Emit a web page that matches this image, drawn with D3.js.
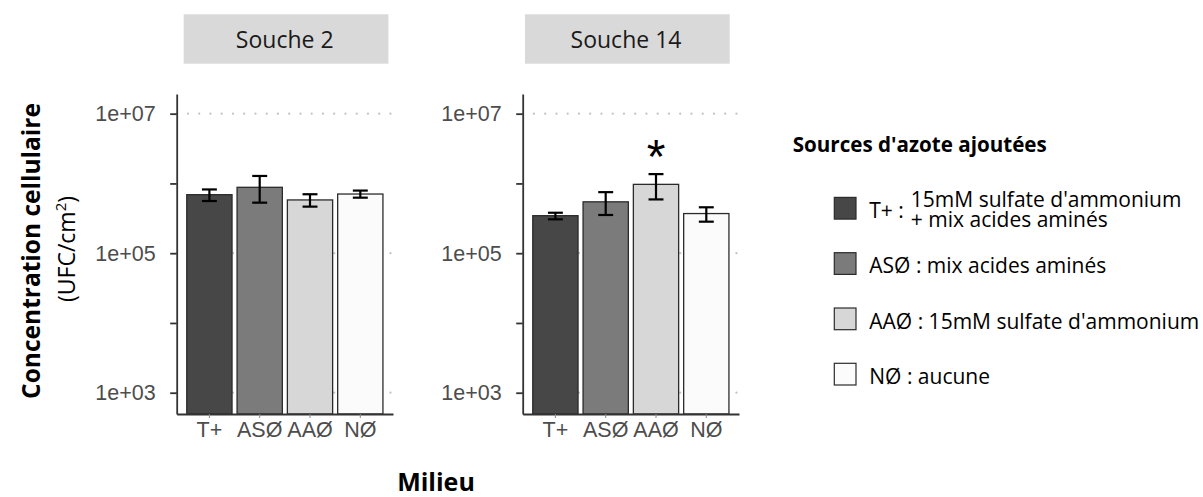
<!DOCTYPE html>
<html>
<head>
<meta charset="utf-8">
<script src="https://cdn.jsdelivr.net/npm/d3@7"></script>
<style>
  body { margin: 0; background: #fff; }
  text { font-family: "Open Sans", sans-serif; }
  .num { font-family: "Liberation Sans", Arial, sans-serif; }
</style>
</head>
<body>
<div id="chart"></div>
<script>
const categories = ["T+", "ASØ", "AAØ", "NØ"]
const strains = ["Souche 2", "Souche 14"]
const tickValues = [1e3, 1e5, 1e7]
const tickLabels = ["1e+03", "1e+05", "1e+07"]
const minorTicks = [1e4, 1e6]

// mean and error bar limits (UFC/cm2)
const means2  = [6.9e5, 8.8e5, 5.8e5, 7.05e5]
const lower2  = [5.6e5, 5.3e5, 4.65e5, 6.25e5]
const upper2  = [8.2e5, 1.28e6, 7.0e5, 7.9e5]
const means14 = [3.45e5, 5.45e5, 9.7e5, 3.7e5]
const lower14 = [3.06e5, 3.53e5, 5.9e5, 2.83e5]
const upper14 = [3.8e5, 7.5e5, 1.36e6, 4.55e5]
const signif2  = ["", "", "", ""]
const signif14 = ["", "", "*", ""]

const legendTitle = "Sources d'azote ajoutées"
const legendLabels = [
  "T+ :|15mM sulfate d'ammonium|+ mix acides aminés",
  "ASØ : mix acides aminés",
  "AAØ : 15mM sulfate d'ammonium",
  "NØ : aucune"
]
const fills = ["#474747", "#7b7b7b", "#d7d7d7", "#fbfbfb"]

const panels = [
  { strain: strains[0], means: means2, lower: lower2, upper: upper2, signif: signif2, left: 176.7, stripLeft: 183.7 },
  { strain: strains[1], means: means14, lower: lower14, upper: upper14, signif: signif14, left: 522.7, stripLeft: 525 }
]

let width = 1203, height = 497,
    panelW = 216.3, panelTop = 94, panelBottom = 414

let svg = d3.select("#chart").append("svg")
  .attr("width", width)
  .attr("height", height)

let y = d3.scaleLog()
  .domain([Math.pow(10, 2.695), Math.pow(10, 7.282)])
  .range([panelBottom, panelTop])

let x = d3.scaleBand()
  .domain(categories)
  .range([0, panelW])
  .paddingInner(0.1)
  .paddingOuter(0.2)

let color = d3.scaleOrdinal().domain(categories).range(fills)

panels.forEach(p => {
  let g = svg.append("g").attr("transform", `translate(${p.left},0)`)

  // strip
  svg.append("rect")
    .attr("x", p.stripLeft).attr("y", 14.3)
    .attr("width", 204.7).attr("height", 49.4)
    .attr("fill", "#d9d9d9")
  svg.append("text")
    .attr("x", p.stripLeft + 101).attr("y", 48.3)
    .attr("text-anchor", "middle")
    .style("font-size", "23px")
    .attr("fill", "#1a1a1a")
    .text(p.strain)

  // dotted gridlines
  g.selectAll(".grid")
    .data(tickValues)
    .enter().append("line")
    .attr("x1", 0).attr("x2", panelW)
    .attr("y1", d => y(d)).attr("y2", d => y(d))
    .attr("stroke", "#c4c4c4")
    .attr("stroke-width", 2.3)
    .attr("stroke-linecap", "round")
    .attr("stroke-dasharray", "0,11.25")

  let rows = categories.map((c, i) => ({
    cat: c, mean: p.means[i], lo: p.lower[i], hi: p.upper[i], sig: p.signif[i]
  }))

  g.selectAll(".bar")
    .data(rows)
    .enter().append("rect")
    .attr("x", d => x(d.cat))
    .attr("y", d => y(d.mean))
    .attr("width", x.bandwidth())
    .attr("height", d => panelBottom - y(d.mean))
    .attr("fill", d => color(d.cat))
    .attr("stroke", "#2b2b2b")
    .attr("stroke-width", 1.3)

  let capW = x.bandwidth() * 0.33
  let eb = g.selectAll(".err")
    .data(rows)
    .enter().append("g")
    .attr("transform", d => `translate(${x(d.cat) + x.bandwidth() / 2},0)`)
    .attr("stroke", "#000")
    .attr("stroke-width", 2.2)
  eb.append("line")
    .attr("y1", d => y(d.lo)).attr("y2", d => y(d.hi))
  eb.append("line")
    .attr("x1", -capW / 2).attr("x2", capW / 2)
    .attr("y1", d => y(d.hi)).attr("y2", d => y(d.hi))
  eb.append("line")
    .attr("x1", -capW / 2).attr("x2", capW / 2)
    .attr("y1", d => y(d.lo)).attr("y2", d => y(d.lo))

  g.selectAll(".sig")
    .data(rows.filter(d => d.sig))
    .enter().append("text")
    .attr("class", "num")
    .attr("x", d => x(d.cat) + x.bandwidth() / 2)
    .attr("y", d => y(d.hi) - 1)
    .attr("text-anchor", "middle")
    .style("font-size", "48px")
    .attr("fill", "#000")
    .text(d => d.sig)

  // y axis: labelled decades + minor decades
  g.append("g")
    .call(d3.axisLeft(y)
      .tickValues(tickValues)
      .tickFormat((d, i) => tickLabels[i])
      .tickSize(6.5)
      .tickSizeOuter(0)
      .tickPadding(14.5))
  g.append("g")
    .call(d3.axisLeft(y)
      .tickValues(minorTicks)
      .tickFormat("")
      .tickSize(6.5)
      .tickSizeOuter(0))
    .select(".domain").remove()

  let xAxis = g.append("g")
    .attr("transform", `translate(0,${panelBottom})`)
    .call(d3.axisBottom(x).tickSize(4).tickSizeOuter(0))
  xAxis.selectAll("text").attr("dy", null).attr("y", 23)

  g.selectAll(".domain").attr("stroke", "#333").attr("stroke-width", 1.8)
  g.selectAll(".tick line").attr("stroke", "#333").attr("stroke-width", 1.8)
  xAxis.selectAll(".tick line").attr("stroke", "#888").attr("stroke-width", 1)
  g.selectAll(".tick text")
    .attr("class", "num")
    .attr("fill", "#4d4d4d")
    .style("font-size", "21.5px")
})

// axis titles
svg.append("text")
  .attr("transform", "translate(40,251) rotate(-90)")
  .attr("text-anchor", "middle")
  .style("font-size", "24.5px")
  .style("font-weight", "bold")
  .text("Concentration cellulaire")

let sub = svg.append("text")
  .attr("transform", "translate(75,249) rotate(-90)")
  .attr("text-anchor", "middle")
  .style("font-size", "23px")
sub.append("tspan").text("(UFC/cm")
sub.append("tspan").attr("dy", -9).style("font-size", "15px").text("2")
sub.append("tspan").attr("dy", 9).text(")")

svg.append("text")
  .attr("x", 436).attr("y", 491)
  .attr("text-anchor", "middle")
  .style("font-size", "25px")
  .style("font-weight", "bold")
  .text("Milieu")

// legend
svg.append("text")
  .attr("x", 792.7).attr("y", 151.7)
  .style("font-size", "20.6px")
  .style("font-weight", "bold")
  .text(legendTitle)

let legend = svg.selectAll(".legend")
  .data(legendLabels)
  .enter().append("g")
  .attr("transform", (d, i) => `translate(834.3,${208.2 + i * 55.3})`)

legend.append("rect")
  .attr("x", 0).attr("y", -10.8)
  .attr("width", 21.7).attr("height", 21.7)
  .attr("fill", (d, i) => fills[i])
  .attr("stroke", "#2b2b2b")
  .attr("stroke-width", 1.2)

legend.each(function(d) {
  let item = d3.select(this)
  let parts = d.split("|")
  let first = item.append("text")
    .attr("x", 35).attr("y", 9.8)
    .style("font-size", "21px")
    .text(parts[0])
  if (parts.length > 1) {
    // two-line label kept in one text element
    let off = 35 + first.node().getComputedTextLength() + 7
    let multi = item.append("text")
      .attr("y", -0.9)
      .style("font-size", "21px")
    parts.slice(1).forEach((line, j) => {
      multi.append("tspan")
        .attr("x", off)
        .attr("dy", j === 0 ? 0 : 20)
        .text(line)
    })
  }
})
</script>
</body>
</html>
